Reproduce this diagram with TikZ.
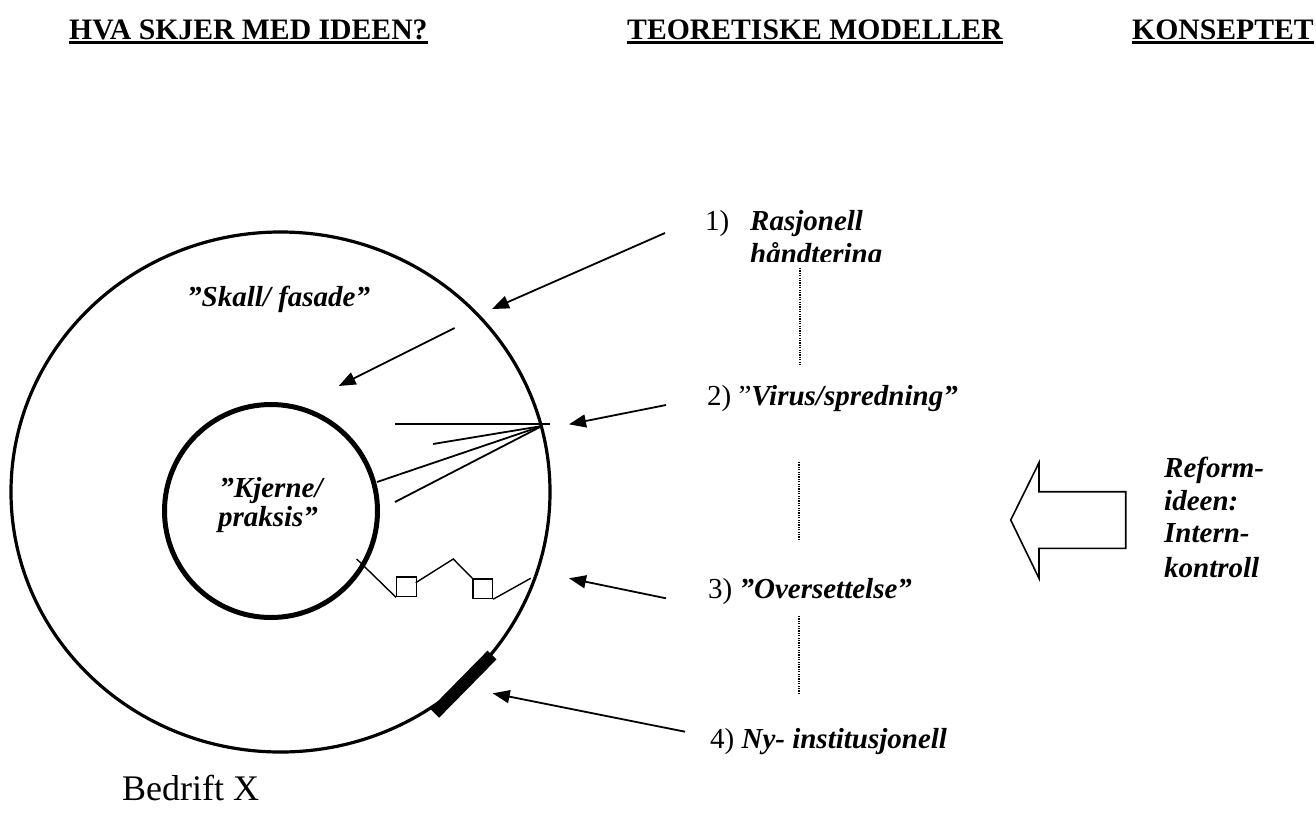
\documentclass[tikz,border=0pt]{standalone}
\usepackage{fontspec}
\setmainfont{Liberation Serif}
\usetikzlibrary{arrows.meta,shapes.geometric}
\begin{document}
\begin{tikzpicture}[x=1pt,y=-1pt,
  head/.style={font=\fontsize{29.7}{34}\selectfont\bfseries, inner sep=0pt, anchor=base west},
  lbl/.style={font=\fontsize{29}{33}\selectfont, inner sep=0pt, anchor=base west},
  lblc/.style={font=\fontsize{29}{33}\selectfont\bfseries\itshape, inner sep=0pt, anchor=base},
  arr/.style={line width=1.8pt, -{Triangle[length=17pt,width=13pt]}},
  dots/.style={line width=1.2pt, dash pattern=on 1.2pt off 1.2pt},
  fan/.style={line width=1.8pt},
  sq/.style={line width=1.4pt},
  uline/.style={line width=2.6pt}]
\useasboundingbox (0,0) rectangle (1316,825);

% headings
\node[head] (h1) at (69,39) {HVA SKJER MED IDEEN?};
\node[head] (h2) at (627,39) {TEORETISKE MODELLER};
\node[head] (h3) at (1132,39) {KONSEPTET};
\draw[uline] ([yshift=-3.5pt]h1.base west) -- ([yshift=-3.5pt]h1.base east);
\draw[uline] ([yshift=-3.5pt]h2.base west) -- ([yshift=-3.5pt]h2.base east);
\draw[uline] ([yshift=-3.5pt]h3.base west) -- ([yshift=-3.5pt]h3.base east);

% circles
\node[draw, ellipse, minimum width=539pt, minimum height=520pt, line width=3.2pt, inner sep=0pt] (shell) at (280.5,492) {};
\node[draw, circle, minimum size=213pt, line width=5pt, inner sep=0pt] (core) at (271,511) {};

\node[lbl] (skall) at (187,306) {\bfseries\itshape ”Skall/ fasade”};
\node[lblc] (kj1) at (271,497) {”Kjerne/};
\node[lblc] (kj2) at (268,526) {praksis”};
\node[lbl, font=\fontsize{36}{40}\selectfont] (bedrift) at (122,800) {Bedrift X};

% fan (virus)
\coordinate (V) at (542,426);
\coordinate (fh1) at (395,424);
\coordinate (fh2) at (550,424);
\coordinate (f2) at (433,444);
\coordinate (f3) at (377,482);
\coordinate (f4) at (395,502);
\draw[fan] (fh1) -- (fh2);
\draw[fan] (f2) -- (V);
\draw[fan] (f3) -- (V);
\draw[fan] (f4) -- (V);

% zigzag with squares (oversettelse)
\coordinate (z0) at (356.7,559);
\coordinate (z1) at (396,597.3);
\coordinate (z2) at (415.7,582.7);
\coordinate (z3) at (453.3,559);
\coordinate (z4) at (472.3,578.3);
\coordinate (z6) at (530.7,578.3);
\node[draw, sq, minimum size=19.5pt, inner sep=0pt, anchor=south west] (s1) at (z1) {};
\node[draw, sq, minimum size=19.5pt, inner sep=0pt, anchor=north west] (s2) at (z4) {};
\draw[sq] (z0) -- (s1.south west);
\draw[sq] (z2) -- (z3) -- (s2.north west);
\draw[sq] (s2.south east) -- (z6);

% thick black segment (ny-institusjonell)
\coordinate (b1) at (434.7,713.3);
\coordinate (b2) at (492,655);
\draw[line width=12.5pt] (b1) -- (b2);

% arrows
\coordinate (a1s) at (665,233); \coordinate (a1e) at (492,309);
\coordinate (a0s) at (454.5,328); \coordinate (a0e) at (338.7,386);
\coordinate (a2s) at (666,405); \coordinate (a2e) at (569,424.3);
\coordinate (a3s) at (666,598.3); \coordinate (a3e) at (569,578.3);
\coordinate (a4s) at (685,731.7); \coordinate (a4e) at (492.7,693.3);
\draw[arr] (a1s) -- (a1e);
\draw[arr] (a0s) -- (a0e);
\draw[arr] (a2s) -- (a2e);
\draw[arr] (a3s) -- (a3e);
\draw[arr] (a4s) -- (a4e);

% model labels
\node[lbl] (n1) at (705,230) {1)};
\node[lbl] (r1) at (750,230) {\bfseries\itshape Rasjonell};
\begin{scope}
  \clip (700,236) rectangle (900,261);
  \node[lbl] (r1b) at (750,263) {\bfseries\itshape håndtering};
\end{scope}
\node[lbl] (n2) at (707,405) {2) ”\textbf{\textit{Virus/spredning”}}};
\node[lbl] (n3) at (708,598) {3) \textbf{\textit{”Oversettelse”}}};
\node[lbl] (n4) at (710,748) {4) \textbf{\textit{Ny- institusjonell}}};

% dotted connectors
\coordinate (d1a) at (800,268); \coordinate (d1b) at (800,366);
\coordinate (d2a) at (799,462); \coordinate (d2b) at (799,540);
\coordinate (d3a) at (799,616); \coordinate (d3b) at (799,693);
\draw[dots] (d1a) -- (d1b);
\draw[dots] (d2a) -- (d2b);
\draw[dots] (d3a) -- (d3b);

% block arrow
\draw[line width=1.6pt, line join=miter] (1010.7,520) -- (1039,462.7) -- (1039,491.7) -- (1125.7,491.7) -- (1125.7,548.3) -- (1039,548.3) -- (1039,578.3) -- cycle;
\node[lbl] (rf1) at (1164,477) {\bfseries\itshape Reform-};
\node[lbl] (rf2) at (1164,510) {\bfseries\itshape ideen:};
\node[lbl] (rf3) at (1164,542) {\bfseries\itshape Intern-};
\node[lbl] (rf4) at (1164,577) {\bfseries\itshape kontroll};
\end{tikzpicture}
\end{document}
